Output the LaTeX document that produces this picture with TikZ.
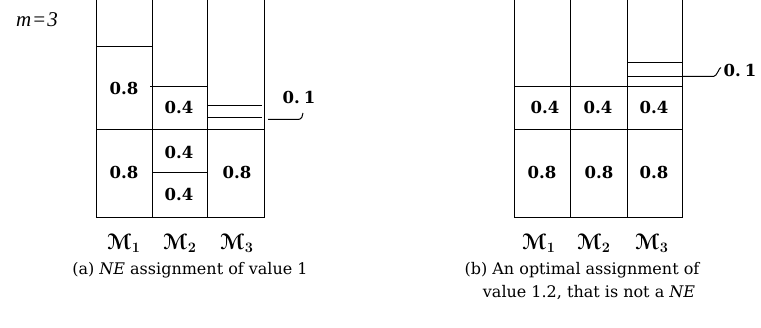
\documentclass[tikz,border=0pt]{standalone}
\usepackage{fontspec}
\usepackage{amsmath}
\usepackage[mathcal]{eucal}
\setmainfont{DejaVu Serif}
\newfontfamily\mfont{Liberation Serif}
\tikzset{
  ln/.style={line width=1.1pt, line cap=rect},
  num/.style={font=\fontsize{16.5}{20}\selectfont\bfseries, inner sep=0pt},
  mach/.style={font=\fontsize{22}{24}\selectfont\boldmath, inner sep=0pt},
  captext/.style={font=\fontsize{16}{20}\selectfont, inner sep=0pt},
  lead/.style={line width=1pt}
}
\begin{document}
\begin{tikzpicture}[x=1pt,y=-1pt]
\useasboundingbox (0,0) rectangle (761,328);
% ---------- left (a) ----------
\node[font=\mfont\itshape\fontsize{21}{23}\selectfont, inner sep=0pt] (m) at (37,20) {m\kern1pt=\kern1pt3};
\draw[ln] (96.5,0) -- (96.5,217.5) -- (264.5,217.5) -- (264.5,0);
\draw[ln] (152.5,0) -- (152.5,217.5);
\draw[ln] (207.5,0) -- (207.5,217.5);
\draw[ln] (96.5,46.5) -- (152.5,46.5);
\draw[ln] (96.5,129.5) -- (264.5,129.5);
\draw[ln] (151,86.5) -- (207.5,86.5);
\draw[ln] (152.5,172.5) -- (207.5,172.5);
\draw[ln] (207.5,105.5) -- (261.5,105.5);
\draw[ln] (207.5,117.5) -- (261.5,117.5);
\node[num] (a1t) at (124,88) {0.8};
\node[num] (a1b) at (124,172) {0.8};
\node[num] (a2t) at (179,107) {0.4};
\node[num] (a2m) at (179,152) {0.4};
\node[num] (a2b) at (179,194) {0.4};
\node[num] (a3b) at (237,172) {0.8};
\node[num] (la) at (299,97.5) {0.\kern4pt1};
\coordinate (las) at (268,119.5);
\coordinate (lae) at (303,113);
\draw[lead] (las) -- ++(30,0) .. controls +(3.5,0) and +(0,3) .. (lae);
\node[mach] (am1) at (124,243) {$\mathcal{M}_1$};
\node[mach] (am2) at (180,243) {$\mathcal{M}_2$};
\node[mach] (am3) at (237,243) {$\mathcal{M}_3$};
\node[captext] (capa) at (190,270) {(a) \textit{NE} assignment of value 1};
% ---------- right (b) ----------
\draw[ln] (514.5,0) -- (514.5,217.5) -- (682.5,217.5) -- (682.5,0);
\draw[ln] (570.5,0) -- (570.5,217.5);
\draw[ln] (627.5,0) -- (627.5,217.5);
\draw[ln] (514.5,86.5) -- (682.5,86.5);
\draw[ln] (514.5,129.5) -- (682.5,129.5);
\draw[ln] (627.5,62.5) -- (682.5,62.5);
\draw[ln] (627.5,76.5) -- (682.5,76.5);
\node[num] (b1t) at (545,107) {0.4};
\node[num] (b2t) at (598,107) {0.4};
\node[num] (b3t) at (654,107) {0.4};
\node[num] (b1b) at (542,172) {0.8};
\node[num] (b2b) at (599,172) {0.8};
\node[num] (b3b) at (654,172) {0.8};
\node[num] (lb) at (740,70) {0.\kern4pt1};
\coordinate (lbs) at (682.5,76.5);
\coordinate (lbe) at (721,67.5);
\draw[lead] (lbs) -- ++(31,0) .. controls +(3.5,0) and +(-2,0) .. (lbe);
\node[mach] (bm1) at (539,243) {$\mathcal{M}_1$};
\node[mach] (bm2) at (594,243) {$\mathcal{M}_2$};
\node[mach] (bm3) at (652,243) {$\mathcal{M}_3$};
\node[captext] (capb1) at (582,270) {(b) An optimal assignment of};
\node[captext] (capb2) at (589,293) {value 1.2, that is not a \textit{NE}};
\end{tikzpicture}
\end{document}
